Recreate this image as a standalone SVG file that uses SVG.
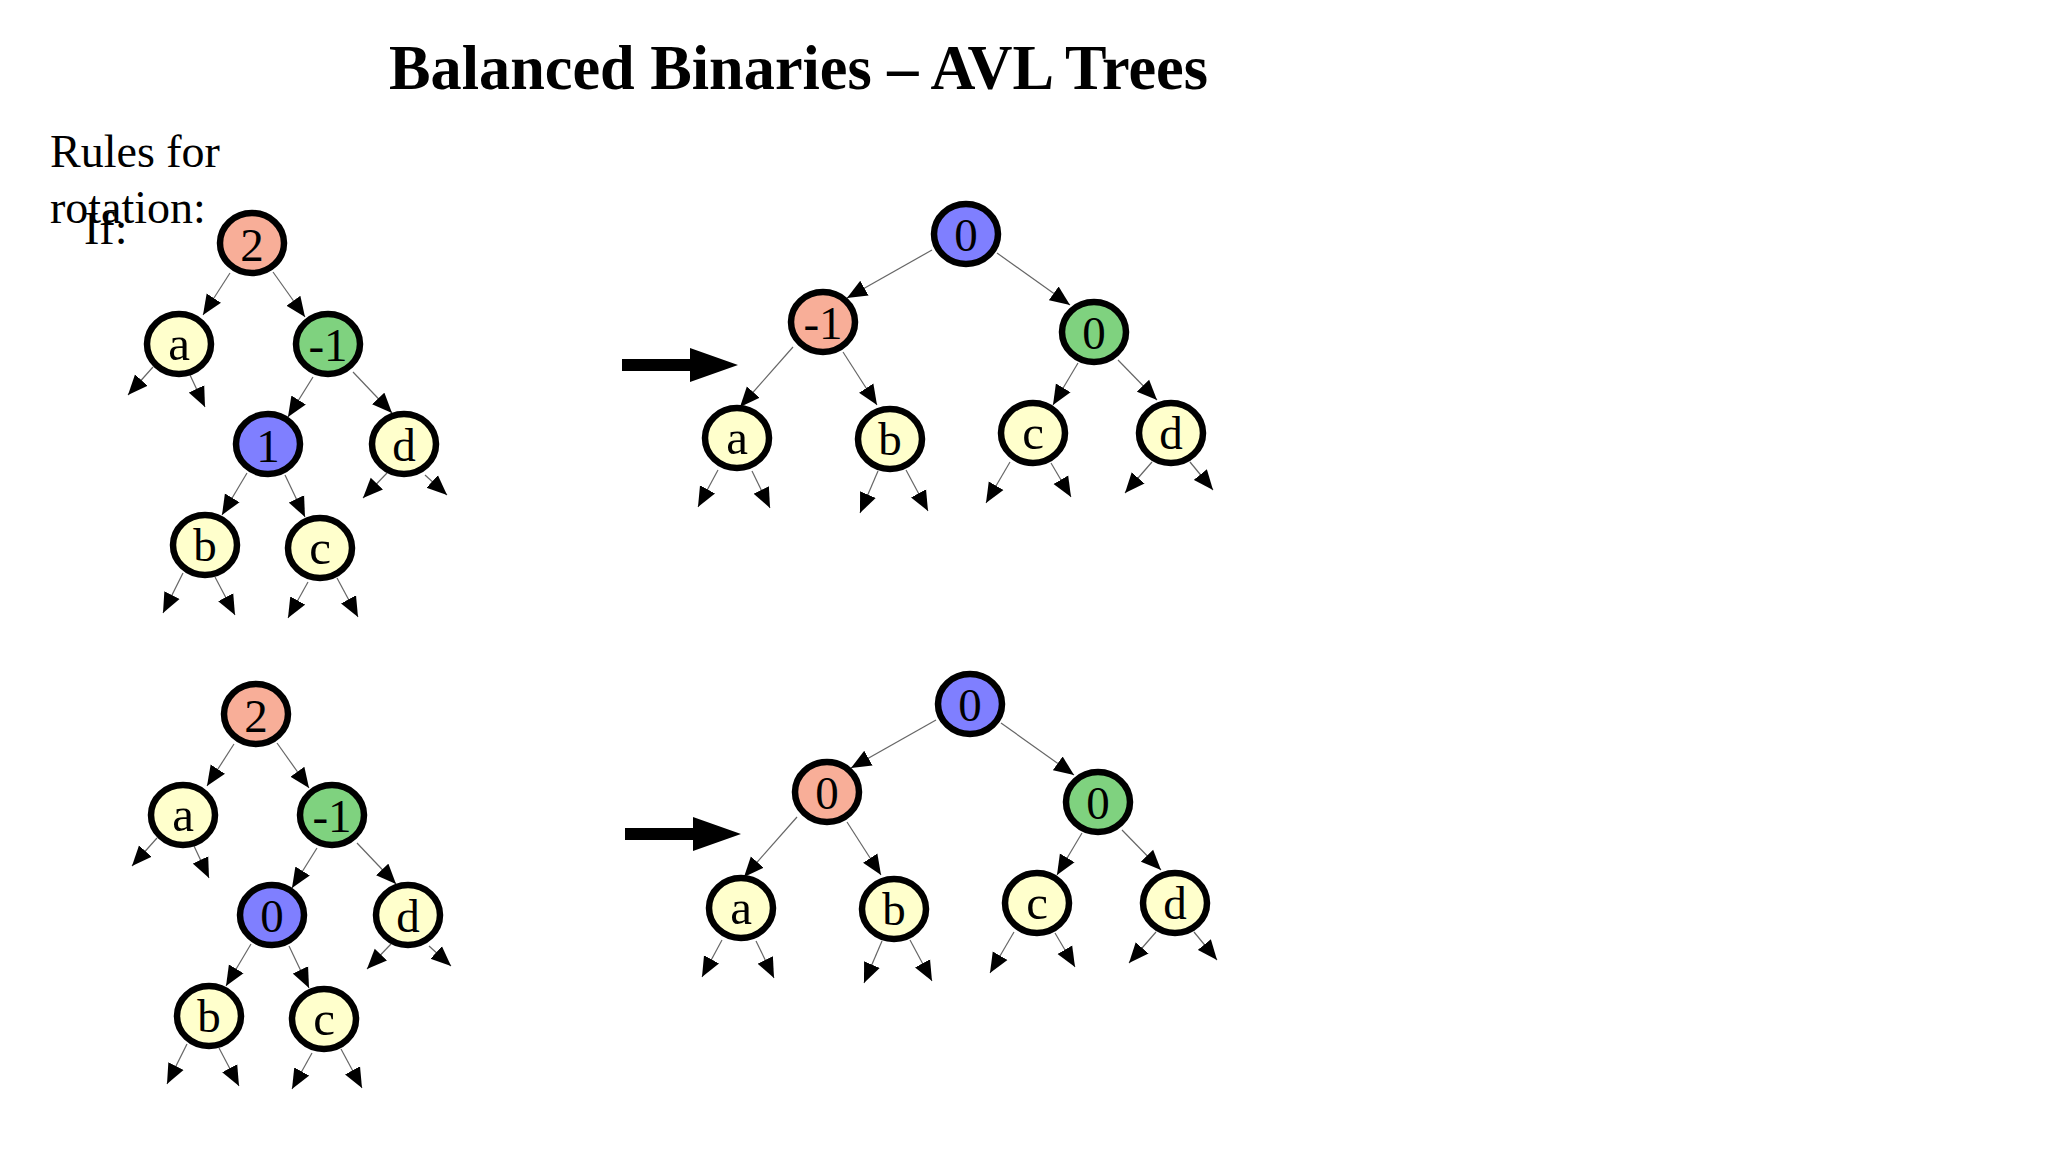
<svg xmlns="http://www.w3.org/2000/svg" width="2048" height="1152" viewBox="0 0 2048 1152">
<style>
.t{font-family:"Liberation Serif","Times New Roman",serif;fill:#000}
.n ellipse{stroke:#000;stroke-width:6.5}
.n text{font-family:"Liberation Serif","Times New Roman",serif;font-size:47px;text-anchor:middle;fill:#000}
.n text.l{font-size:49px}
.s{fill:#F8AE98}.g{fill:#7FD27F}.b{fill:#7F7FFF}.y{fill:#FFFFCC}
.e line{stroke:#666;stroke-width:1.2;marker-end:url(#ah)}
</style>
<defs>
<marker id="ah" markerUnits="userSpaceOnUse" viewBox="0 -9 20 18" markerWidth="20" markerHeight="18" refX="20" refY="0" orient="auto">
<path d="M0,-8.5 L20,0 L0,8.5 z" fill="#000"/>
</marker>
</defs>
<rect width="2048" height="1152" fill="#fff"/>
<text class="t" x="389" y="89" font-size="63" font-weight="bold" textLength="819" lengthAdjust="spacingAndGlyphs">Balanced Binaries – AVL Trees</text>
<text class="t" x="50" y="167" font-size="46">Rules for</text>
<text class="t" x="50" y="223" font-size="46">rotation:</text>
<text class="t" x="84" y="244" font-size="46">If:</text>

<g id="connectors">
 <g id="edges-tl" class="e">
  <line x1="230" y1="273" x2="203" y2="315"/>
  <line x1="273" y1="272" x2="305" y2="317"/>
  <line x1="153" y1="367" x2="128" y2="395"/>
  <line x1="190" y1="375" x2="205" y2="407"/>
  <line x1="313" y1="377" x2="288" y2="417"/>
  <line x1="353" y1="372" x2="392" y2="413"/>
  <line x1="247" y1="473" x2="222" y2="515"/>
  <line x1="285" y1="475" x2="305" y2="517"/>
  <line x1="387" y1="473" x2="363" y2="498"/>
  <line x1="425" y1="475" x2="447" y2="495"/>
  <line x1="183" y1="573" x2="163" y2="613"/>
  <line x1="215" y1="577" x2="235" y2="615"/>
  <line x1="308" y1="582" x2="288" y2="618"/>
  <line x1="337" y1="578" x2="358" y2="617"/>
 </g>
 <g id="edges-bl" class="e" transform="translate(4,471)">
  <line x1="230" y1="273" x2="203" y2="315"/>
  <line x1="273" y1="272" x2="305" y2="317"/>
  <line x1="153" y1="367" x2="128" y2="395"/>
  <line x1="190" y1="375" x2="205" y2="407"/>
  <line x1="313" y1="377" x2="288" y2="417"/>
  <line x1="353" y1="372" x2="392" y2="413"/>
  <line x1="247" y1="473" x2="222" y2="515"/>
  <line x1="285" y1="475" x2="305" y2="517"/>
  <line x1="387" y1="473" x2="363" y2="498"/>
  <line x1="425" y1="475" x2="447" y2="495"/>
  <line x1="183" y1="573" x2="163" y2="613"/>
  <line x1="215" y1="577" x2="235" y2="615"/>
  <line x1="308" y1="582" x2="288" y2="618"/>
  <line x1="337" y1="578" x2="358" y2="617"/>
 </g>
 <g id="edges-tr" class="e">
  <line x1="932" y1="250" x2="847" y2="298"/>
  <line x1="997" y1="253" x2="1070" y2="305"/>
  <line x1="793" y1="347" x2="740" y2="407"/>
  <line x1="843" y1="352" x2="877" y2="405"/>
  <line x1="1078" y1="363" x2="1053" y2="405"/>
  <line x1="1118" y1="360" x2="1157" y2="400"/>
  <line x1="718" y1="470" x2="698" y2="507"/>
  <line x1="752" y1="471" x2="770" y2="508"/>
  <line x1="878" y1="471" x2="860" y2="513"/>
  <line x1="906" y1="470" x2="928" y2="511"/>
  <line x1="1010" y1="462" x2="986" y2="503"/>
  <line x1="1051" y1="463" x2="1071" y2="497"/>
  <line x1="1152" y1="462" x2="1125" y2="493"/>
  <line x1="1190" y1="462" x2="1213" y2="490"/>
 </g>
 <g id="edges-br" class="e" transform="translate(4,470)">
  <line x1="932" y1="250" x2="847" y2="298"/>
  <line x1="997" y1="253" x2="1070" y2="305"/>
  <line x1="793" y1="347" x2="740" y2="407"/>
  <line x1="843" y1="352" x2="877" y2="405"/>
  <line x1="1078" y1="363" x2="1053" y2="405"/>
  <line x1="1118" y1="360" x2="1157" y2="400"/>
  <line x1="718" y1="470" x2="698" y2="507"/>
  <line x1="752" y1="471" x2="770" y2="508"/>
  <line x1="878" y1="471" x2="860" y2="513"/>
  <line x1="906" y1="470" x2="928" y2="511"/>
  <line x1="1010" y1="462" x2="986" y2="503"/>
  <line x1="1051" y1="463" x2="1071" y2="497"/>
  <line x1="1152" y1="462" x2="1125" y2="493"/>
  <line x1="1190" y1="462" x2="1213" y2="490"/>
 </g>
 <polygon id="arrow-top" points="622,359 690,359 690,348 738,365 690,382 690,371 622,371" fill="#000"/>
 <polygon id="arrow-bottom" points="625,828 693,828 693,817 741,834 693,851 693,840 625,840" fill="#000"/>
</g>

<g id="tree-top-left">
 <g id="tl-root" class="n"><ellipse class="s" cx="252" cy="243" rx="32" ry="30"/><text x="252" y="261">2</text></g>
 <g id="tl-a" class="n"><ellipse class="y" cx="179" cy="344" rx="32" ry="30"/><text class="l" x="179" y="360">a</text></g>
 <g id="tl-m1" class="n"><ellipse class="g" cx="328" cy="344" rx="32" ry="30"/><text x="328" y="361">-1</text></g>
 <g id="tl-1" class="n"><ellipse class="b" cx="268" cy="444" rx="32" ry="30"/><text x="268" y="462">1</text></g>
 <g id="tl-d" class="n"><ellipse class="y" cx="404" cy="444" rx="32" ry="30"/><text x="404" y="461">d</text></g>
 <g id="tl-b" class="n"><ellipse class="y" cx="205" cy="545" rx="32" ry="30"/><text x="205" y="561">b</text></g>
 <g id="tl-c" class="n"><ellipse class="y" cx="320" cy="548" rx="32" ry="30"/><text class="l" x="320" y="564">c</text></g>
</g>

<g id="tree-bottom-left" transform="translate(4,471)">
 <g id="bl-root" class="n"><ellipse class="s" cx="252" cy="243" rx="32" ry="30"/><text x="252" y="261">2</text></g>
 <g id="bl-a" class="n"><ellipse class="y" cx="179" cy="344" rx="32" ry="30"/><text class="l" x="179" y="360">a</text></g>
 <g id="bl-m1" class="n"><ellipse class="g" cx="328" cy="344" rx="32" ry="30"/><text x="328" y="361">-1</text></g>
 <g id="bl-0" class="n"><ellipse class="b" cx="268" cy="444" rx="32" ry="30"/><text x="268" y="461">0</text></g>
 <g id="bl-d" class="n"><ellipse class="y" cx="404" cy="444" rx="32" ry="30"/><text x="404" y="461">d</text></g>
 <g id="bl-b" class="n"><ellipse class="y" cx="205" cy="545" rx="32" ry="30"/><text x="205" y="561">b</text></g>
 <g id="bl-c" class="n"><ellipse class="y" cx="320" cy="548" rx="32" ry="30"/><text class="l" x="320" y="564">c</text></g>
</g>

<g id="tree-top-right">
 <g id="tr-root" class="n"><ellipse class="b" cx="966" cy="234" rx="32" ry="30"/><text x="966" y="251">0</text></g>
 <g id="tr-left" class="n"><ellipse class="s" cx="823" cy="322" rx="32" ry="30"/><text x="823" y="339">-1</text></g>
 <g id="tr-right" class="n"><ellipse class="g" cx="1094" cy="332" rx="32" ry="30"/><text x="1094" y="349">0</text></g>
 <g id="tr-a" class="n"><ellipse class="y" cx="737" cy="438" rx="32" ry="30"/><text class="l" x="737" y="454">a</text></g>
 <g id="tr-b" class="n"><ellipse class="y" cx="890" cy="439" rx="32" ry="30"/><text x="890" y="455">b</text></g>
 <g id="tr-c" class="n"><ellipse class="y" cx="1033" cy="433" rx="32" ry="30"/><text class="l" x="1033" y="449">c</text></g>
 <g id="tr-d" class="n"><ellipse class="y" cx="1171" cy="433" rx="32" ry="30"/><text x="1171" y="449">d</text></g>
</g>

<g id="tree-bottom-right" transform="translate(4,470)">
 <g id="br-root" class="n"><ellipse class="b" cx="966" cy="234" rx="32" ry="30"/><text x="966" y="251">0</text></g>
 <g id="br-left" class="n"><ellipse class="s" cx="823" cy="322" rx="32" ry="30"/><text x="823" y="339">0</text></g>
 <g id="br-right" class="n"><ellipse class="g" cx="1094" cy="332" rx="32" ry="30"/><text x="1094" y="349">0</text></g>
 <g id="br-a" class="n"><ellipse class="y" cx="737" cy="438" rx="32" ry="30"/><text class="l" x="737" y="454">a</text></g>
 <g id="br-b" class="n"><ellipse class="y" cx="890" cy="439" rx="32" ry="30"/><text x="890" y="455">b</text></g>
 <g id="br-c" class="n"><ellipse class="y" cx="1033" cy="433" rx="32" ry="30"/><text class="l" x="1033" y="449">c</text></g>
 <g id="br-d" class="n"><ellipse class="y" cx="1171" cy="433" rx="32" ry="30"/><text x="1171" y="449">d</text></g>
</g>
</svg>
